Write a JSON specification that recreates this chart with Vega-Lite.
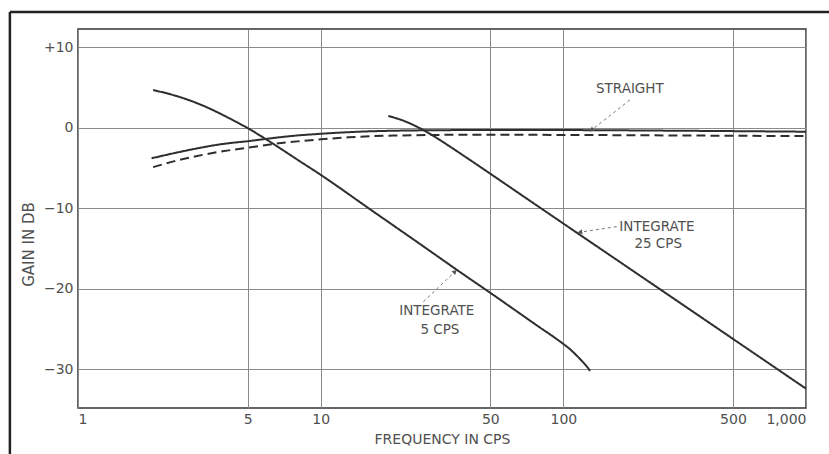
{
  "$schema": "https://vega.github.io/schema/vega-lite/v6.json",
  "width": 728,
  "height": 379,
  "autosize": {"type": "none"},
  "padding": {"left": 78, "top": 29, "right": 23, "bottom": 46},
  "background": "#ffffff",
  "config": {
    "view": {"stroke": "#333333", "strokeWidth": 1.5},
    "font": "DejaVu Sans",
    "axis": {
      "domain": false,
      "ticks": false,
      "grid": true,
      "gridColor": "#8a8a8a",
      "gridWidth": 1,
      "gridOpacity": 1,
      "labelFont": "DejaVu Sans",
      "labelFontSize": 14,
      "labelColor": "#505050",
      "titleFont": "DejaVu Sans",
      "titleFontSize": 14,
      "titleFontWeight": "normal",
      "titleColor": "#505050"
    },
    "text": {"font": "DejaVu Sans", "fontSize": 13.5, "color": "#505050"}
  },
  "datasets": {
    "curves": [
      {"series": "Straight", "freq": 2.01, "gain": -3.8},
      {"series": "Straight", "freq": 2.5, "gain": -3.15},
      {"series": "Straight", "freq": 3, "gain": -2.65},
      {"series": "Straight", "freq": 4, "gain": -2.0},
      {"series": "Straight", "freq": 5, "gain": -1.68},
      {"series": "Straight", "freq": 6.5, "gain": -1.25},
      {"series": "Straight", "freq": 8, "gain": -0.97},
      {"series": "Straight", "freq": 10, "gain": -0.76},
      {"series": "Straight", "freq": 13, "gain": -0.56},
      {"series": "Straight", "freq": 20, "gain": -0.38},
      {"series": "Straight", "freq": 40, "gain": -0.3},
      {"series": "Straight", "freq": 100, "gain": -0.3},
      {"series": "Straight", "freq": 300, "gain": -0.38},
      {"series": "Straight", "freq": 1000, "gain": -0.5},
      {"series": "Straight (dashed)", "freq": 2.04, "gain": -4.9},
      {"series": "Straight (dashed)", "freq": 2.5, "gain": -4.15},
      {"series": "Straight (dashed)", "freq": 3, "gain": -3.6},
      {"series": "Straight (dashed)", "freq": 4, "gain": -2.9},
      {"series": "Straight (dashed)", "freq": 5, "gain": -2.5},
      {"series": "Straight (dashed)", "freq": 6.5, "gain": -2.0},
      {"series": "Straight (dashed)", "freq": 8, "gain": -1.7},
      {"series": "Straight (dashed)", "freq": 10, "gain": -1.45},
      {"series": "Straight (dashed)", "freq": 13, "gain": -1.2},
      {"series": "Straight (dashed)", "freq": 20, "gain": -0.98},
      {"series": "Straight (dashed)", "freq": 40, "gain": -0.88},
      {"series": "Straight (dashed)", "freq": 100, "gain": -0.9},
      {"series": "Straight (dashed)", "freq": 300, "gain": -0.97},
      {"series": "Straight (dashed)", "freq": 1000, "gain": -1.05},
      {"series": "Integrate 5 cps", "freq": 2.04, "gain": 4.67},
      {"series": "Integrate 5 cps", "freq": 2.5, "gain": 4.0},
      {"series": "Integrate 5 cps", "freq": 3.0, "gain": 3.2},
      {"series": "Integrate 5 cps", "freq": 3.5, "gain": 2.35},
      {"series": "Integrate 5 cps", "freq": 4.0, "gain": 1.5},
      {"series": "Integrate 5 cps", "freq": 4.5, "gain": 0.7},
      {"series": "Integrate 5 cps", "freq": 5.0, "gain": -0.05},
      {"series": "Integrate 5 cps", "freq": 6.0, "gain": -1.5},
      {"series": "Integrate 5 cps", "freq": 7.0, "gain": -2.8},
      {"series": "Integrate 5 cps", "freq": 8.0, "gain": -3.95},
      {"series": "Integrate 5 cps", "freq": 10, "gain": -5.85},
      {"series": "Integrate 5 cps", "freq": 16, "gain": -10.14},
      {"series": "Integrate 5 cps", "freq": 25, "gain": -14.2},
      {"series": "Integrate 5 cps", "freq": 40, "gain": -18.5},
      {"series": "Integrate 5 cps", "freq": 50, "gain": -20.5},
      {"series": "Integrate 5 cps", "freq": 65, "gain": -22.9},
      {"series": "Integrate 5 cps", "freq": 80, "gain": -24.8},
      {"series": "Integrate 5 cps", "freq": 90, "gain": -25.85},
      {"series": "Integrate 5 cps", "freq": 100, "gain": -26.85},
      {"series": "Integrate 5 cps", "freq": 107, "gain": -27.55},
      {"series": "Integrate 5 cps", "freq": 114, "gain": -28.35},
      {"series": "Integrate 5 cps", "freq": 120, "gain": -29.05},
      {"series": "Integrate 5 cps", "freq": 125, "gain": -29.65},
      {"series": "Integrate 5 cps", "freq": 129, "gain": -30.2},
      {"series": "Integrate 25 cps", "freq": 19.0, "gain": 1.45},
      {"series": "Integrate 25 cps", "freq": 22, "gain": 0.85},
      {"series": "Integrate 25 cps", "freq": 25, "gain": 0.1},
      {"series": "Integrate 25 cps", "freq": 28, "gain": -0.7},
      {"series": "Integrate 25 cps", "freq": 32, "gain": -1.8},
      {"series": "Integrate 25 cps", "freq": 41.2, "gain": -4.0},
      {"series": "Integrate 25 cps", "freq": 70, "gain": -8.72},
      {"series": "Integrate 25 cps", "freq": 100, "gain": -11.9},
      {"series": "Integrate 25 cps", "freq": 250, "gain": -20.05},
      {"series": "Integrate 25 cps", "freq": 500, "gain": -26.22},
      {"series": "Integrate 25 cps", "freq": 1000, "gain": -32.4}
    ],
    "labels": [
      {"key": "straight", "freq": 188, "gain": 4.76, "text": "STRAIGHT"},
      {"key": "i25", "freq": 243, "gain": -12.28, "text": "INTEGRATE"},
      {"key": "i25", "freq": 246, "gain": -14.43, "text": "25 CPS"},
      {"key": "i5", "freq": 30.1, "gain": -22.74, "text": "INTEGRATE"},
      {"key": "i5", "freq": 31.0, "gain": -25.1, "text": "5 CPS"}
    ],
    "arrows": [
      {"key": "straight", "freq": 188, "gain": 3.44, "freq_end": 130.8, "gain_end": -0.29},
      {"key": "i25", "freq": 165.8, "gain": -12.28, "freq_end": 117, "gain_end": -12.98},
      {"key": "i5", "freq": 26.5, "gain": -21.6, "freq_end": 35.8, "gain_end": -17.87}
    ],
    "frame": [
      {"edge": "top", "freq": 0.524, "gain": 14.36, "freq_end": 1300, "gain_end": 14.36},
      {"edge": "left", "freq": 0.524, "gain": 14.36, "freq_end": 0.524, "gain_end": -42}
    ]
  },
  "layer": [
    {
      "data": {"name": "frame"},
      "mark": {"type": "rule", "color": "#222222", "strokeWidth": 2.5, "clip": false},
      "encoding": {
        "x": {"field": "freq", "type": "quantitative", "scale": {"type": "log", "domain": [1, 1000]}},
        "x2": {"field": "freq_end"},
        "y": {"field": "gain", "type": "quantitative", "scale": {"domain": [-34.8, 12.25]}},
        "y2": {"field": "gain_end"}
      }
    },
    {
      "data": {"name": "curves"},
      "mark": {"type": "line", "interpolate": "monotone", "color": "#2e2e2e", "strokeWidth": 2},
      "encoding": {
        "x": {
          "field": "freq", "type": "quantitative",
          "scale": {"type": "log", "domain": [1, 1000], "nice": false},
          "axis": {
            "values": [1, 5, 10, 50, 100, 500, 1000],
            "format": ",d",
            "labelPadding": 4,
            "title": "FREQUENCY IN CPS",
            "titleY": 31,
            "titleBaseline": "middle"
          }
        },
        "y": {
          "field": "gain", "type": "quantitative",
          "scale": {"domain": [-34.8, 12.25], "nice": false, "zero": false},
          "axis": {
            "values": [-30, -20, -10, 0, 10],
            "labelExpr": "datum.value > 0 ? '+' + datum.label : datum.label",
            "labelPadding": 5,
            "title": "GAIN IN DB",
            "titleFontSize": 15,
            "titleX": -50,
            "titleY": 215,
            "titleAngle": -90,
            "titleAlign": "center",
            "titleBaseline": "middle"
          }
        },
        "detail": {"field": "series"},
        "strokeDash": {
          "field": "series", "type": "nominal",
          "scale": {
            "domain": ["Straight", "Straight (dashed)", "Integrate 5 cps", "Integrate 25 cps"],
            "range": [[1, 0], [9, 5], [1, 0], [1, 0]]
          },
          "legend": null
        }
      }
    },
    {
      "data": {"name": "arrows"},
      "mark": {"type": "rule", "color": "#777777", "strokeWidth": 1, "strokeDash": [3, 3]},
      "encoding": {
        "x": {"field": "freq", "type": "quantitative"},
        "x2": {"field": "freq_end"},
        "y": {"field": "gain", "type": "quantitative"},
        "y2": {"field": "gain_end"}
      }
    },
    {
      "data": {"name": "arrows"},
      "transform": [{"filter": "datum.key == 'straight'"}],
      "mark": {"type": "point", "shape": "triangle-up", "filled": true, "color": "#555555", "size": 28, "angle": 232, "opacity": 1},
      "encoding": {
        "x": {"field": "freq_end", "type": "quantitative"},
        "y": {"field": "gain_end", "type": "quantitative"}
      }
    },
    {
      "data": {"name": "arrows"},
      "transform": [{"filter": "datum.key == 'i25'"}],
      "mark": {"type": "point", "shape": "triangle-up", "filled": true, "color": "#555555", "size": 28, "angle": 261, "opacity": 1},
      "encoding": {
        "x": {"field": "freq_end", "type": "quantitative"},
        "y": {"field": "gain_end", "type": "quantitative"}
      }
    },
    {
      "data": {"name": "arrows"},
      "transform": [{"filter": "datum.key == 'i5'"}],
      "mark": {"type": "point", "shape": "triangle-up", "filled": true, "color": "#555555", "size": 28, "angle": 47, "opacity": 1},
      "encoding": {
        "x": {"field": "freq_end", "type": "quantitative"},
        "y": {"field": "gain_end", "type": "quantitative"}
      }
    },
    {
      "data": {"name": "labels"},
      "mark": {"type": "text", "align": "center", "baseline": "middle"},
      "encoding": {
        "x": {"field": "freq", "type": "quantitative"},
        "y": {"field": "gain", "type": "quantitative"},
        "text": {"field": "text"}
      }
    }
  ]
}
